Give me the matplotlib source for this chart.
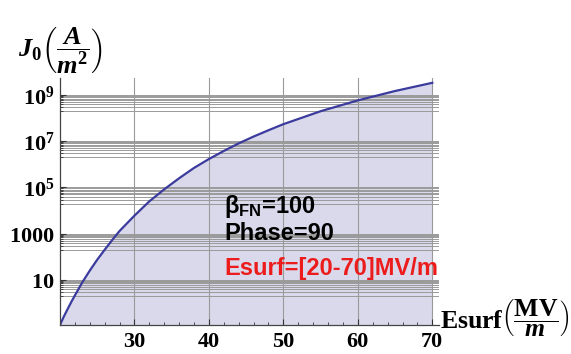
import numpy as np
import matplotlib
matplotlib.use("Agg")
import matplotlib.pyplot as plt
from matplotlib.ticker import FixedLocator, NullFormatter

# ---- data ----
esurf = [20, 20.5, 21, 21.5, 22, 23, 24, 25, 26, 27, 28, 30, 32, 34, 36, 38, 40,
         42, 44, 46, 48, 50, 55, 60, 65, 70]
j0 = [0.11, 0.25, 0.52, 1.07, 2.1, 7.8, 25, 74, 200, 520, 1.3e3, 6.0e3, 2.5e4,
      8.3e4, 2.5e5, 7.0e5, 1.7e6, 3.8e6, 8.1e6, 1.6e7, 3.0e7, 5.5e7, 2.0e8,
      5.9e8, 1.5e9, 3.4e9]
x_ticks = [30, 40, 50, 60, 70]
x_tick_labels = ["30", "40", "50", "60", "70"]
y_ticks = [1e1, 1e3, 1e5, 1e7, 1e9]
y_tick_labels = [r"$10$", r"$1000$", r"$10^{5}$", r"$10^{7}$", r"$10^{9}$"]
annot_lines = [r"$\mathsf{\beta_{FN}}$=100", "Phase=90", "Esurf=[20-70]MV/m"]

plt.rcParams["mathtext.fontset"] = "custom"
plt.rcParams["mathtext.rm"] = "Liberation Serif:bold"
plt.rcParams["mathtext.bf"] = "Liberation Serif:bold"
plt.rcParams["mathtext.it"] = "Liberation Serif:bold:italic"
plt.rcParams["mathtext.sf"] = "Liberation Sans:bold"
plt.rcParams["mathtext.default"] = "rm"

W, H = 571, 354
fig = plt.figure(figsize=(W / 100, H / 100), dpi=100)
ax = fig.add_axes([60 / W, 29 / H, 379 / W, 247 / H])

line_col = "#3b3b9d"
fill_col = "#d9d9eb"
grid_col = "#9a9a9a"

ax.set_yscale("log")
ax.set_xlim(20, 70.9)
ax.set_ylim(j0[0], 10 ** 9.74)

ax.fill_between(esurf, j0[0], j0, color=fill_col, lw=0, zorder=1)
ax.plot(esurf, j0, color=line_col, lw=1.6, zorder=3)

# ticks
ax.xaxis.set_major_locator(FixedLocator(x_ticks))
ax.set_xticklabels(x_tick_labels, fontfamily="Liberation Serif",
                   fontweight="bold", fontsize=16)
ax.xaxis.set_minor_locator(FixedLocator(list(range(22, 71, 2))))
ax.yaxis.set_major_locator(FixedLocator(y_ticks))
ax.set_yticklabels(y_tick_labels, fontsize=16)
minor_y = []
for t in y_ticks:
    for m in range(2, 10):
        minor_y.append(t * m / 10)
ax.yaxis.set_minor_locator(FixedLocator(minor_y))
ax.yaxis.set_minor_formatter(NullFormatter())

ax.tick_params(axis="both", which="major", direction="in", length=4,
               width=0.8, color="#333333", pad=4)
ax.tick_params(axis="both", which="minor", direction="in", length=2,
               width=0.6, color="#333333")
ax.tick_params(axis="x", which="major", pad=5)

ax.grid(axis="x", which="major", color=grid_col, lw=0.8, zorder=2)
ax.grid(axis="y", which="both", color=grid_col, lw=0.7, zorder=2)
ax.set_axisbelow(False)

for s in ["top", "right"]:
    ax.spines[s].set_visible(False)
for s in ["left", "bottom"]:
    ax.spines[s].set_color("#444444")
    ax.spines[s].set_linewidth(0.9)
    ax.spines[s].set_zorder(4)

# axis labels
fig.text(18 / W, 1 - 57 / H, r"$\mathit{J}_0\left(\dfrac{\mathit{A}}{\mathit{m}^2}\right)$",
         fontsize=19, ha="left", va="baseline")
fig.text(440 / W, 1 - 329 / H,
         r"$\mathrm{Esurf}\left(\dfrac{\mathrm{MV}}{\mathit{m}}\right)$",
         fontsize=18.5, ha="left", va="baseline")

# annotations
fig.text(224 / W, 1 - 213 / H, annot_lines[0], fontsize=17,
         fontfamily="Liberation Sans", fontweight="bold", color="black",
         ha="left", va="baseline")
fig.text(224 / W, 1 - 240 / H, annot_lines[1], fontsize=17,
         fontfamily="Liberation Sans", fontweight="bold", color="black",
         ha="left", va="baseline")
fig.text(224 / W, 1 - 275 / H, annot_lines[2], fontsize=17,
         fontfamily="Liberation Sans", fontweight="bold", color="#ec1c1c",
         ha="left", va="baseline")

fig.savefig("out.png", dpi=100)
